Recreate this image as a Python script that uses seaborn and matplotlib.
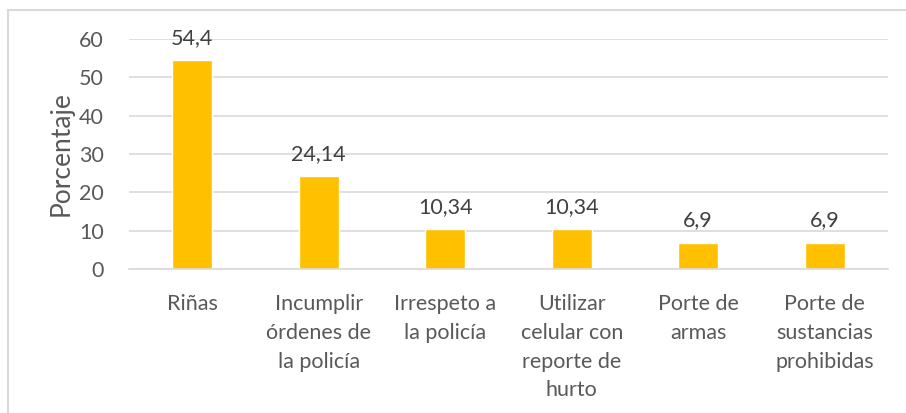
import matplotlib
matplotlib.use('Agg')
import matplotlib.pyplot as plt
import seaborn as sns
import pandas as pd

categories = ["Riñas", "Incumplir\nórdenes de\nla policía", "Irrespeto a\nla policía",
              "Utilizar\ncelular con\nreporte de\nhurto", "Porte de\narmas",
              "Porte de\nsustancias\nprohibidas"]
values = [54.4, 24.14, 10.34, 10.34, 6.9, 6.9]
value_labels = ["54,4", "24,14", "10,34", "10,34", "6,9", "6,9"]
yticks = [0, 10, 20, 30, 40, 50, 60]

sns.set_theme(style="white")
plt.rcParams['font.family'] = ['Lato', 'DejaVu Sans']

df = pd.DataFrame({"cat": categories, "val": values})

W, H = 906, 413
fig = plt.figure(figsize=(W / 100, H / 100), dpi=100)
ax = fig.add_axes([129 / W, 1 - 269 / H, (888 - 129) / W, (269 - 39) / H])

sns.barplot(data=df, x="cat", y="val", color="#FFC000", saturation=1, width=0.32, ax=ax)

ax.set_ylim(0, 60)
ax.set_yticks(yticks)
ax.set_xlim(-0.5, len(categories) - 0.5)
ax.grid(axis="y", color="#D9D9D9", linewidth=1.2)
ax.set_axisbelow(True)
for s in ["top", "right", "left"]:
    ax.spines[s].set_visible(False)
ax.spines["bottom"].set_color("#D9D9D9")
ax.spines["bottom"].set_linewidth(1.2)

ax.tick_params(axis="both", length=0, labelsize=15.5, colors="#595959")
ax.tick_params(axis="y", pad=18)
ax.tick_params(axis="x", pad=18)
for lbl in ax.get_xticklabels():
    lbl.set_linespacing(1.55)
    lbl.set_verticalalignment("top")
ax.set_xlabel("")
ax.set_ylabel("Porcentaje", fontsize=19, color="#595959", labelpad=4)

for i, (v, t) in enumerate(zip(values, value_labels)):
    ax.text(i, v + 3.2, t, ha="center", va="bottom", fontsize=15.5, color="#404040")

fig.patches.append(plt.Rectangle((8 / W, -0.1), 1.2, 1.1 - 10 / H,
                                 transform=fig.transFigure, fill=False,
                                 edgecolor="#D9D9D9", linewidth=1.5))

fig.savefig("out.png", dpi=100)
